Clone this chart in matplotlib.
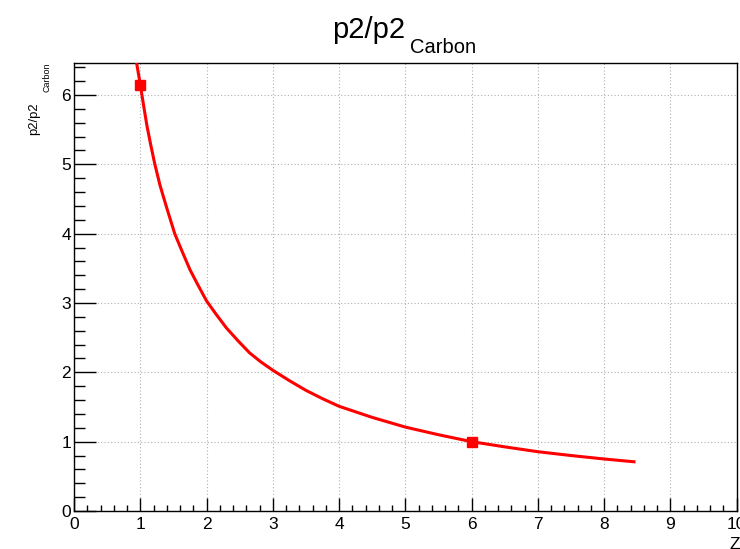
import matplotlib
matplotlib.use("Agg")
import matplotlib.pyplot as plt
from matplotlib.ticker import MultipleLocator

plt.rcParams["font.family"] = ["Liberation Sans", "DejaVu Sans"]

# curve
z_curve = [0.945, 1.0, 1.05, 1.1, 1.16, 1.22, 1.3, 1.4, 1.52, 1.62, 1.75,
           1.87, 2.0, 2.15, 2.3, 2.47, 2.65, 2.82, 3.0, 3.25, 3.5, 3.75,
           4.0, 4.5, 5.0, 5.5, 6.0, 6.5, 7.0, 7.5, 8.0, 8.45]
ratio_curve = [6.46, 6.15, 5.85, 5.56, 5.27, 5.0, 4.69, 4.37, 4.0, 3.77, 3.48,
               3.26, 3.03, 2.83, 2.64, 2.46, 2.28, 2.15, 2.03, 1.88, 1.74, 1.62,
               1.51, 1.35, 1.21, 1.10, 1.0, 0.925, 0.855, 0.80, 0.75, 0.71]

# square markers
z_points = [1, 6]
ratio_points = [6.15, 1.0]

x_ticks = [0, 1, 2, 3, 4, 5, 6, 7, 8, 9, 10]
y_ticks = [0, 1, 2, 3, 4, 5, 6]

W, H = 740, 549
fig = plt.figure(figsize=(W / 100, H / 100), dpi=100)
ax = fig.add_axes([74 / W, 1 - 511 / H, 662.7 / W, (511 - 63.3) / H])

ax.plot(z_curve, ratio_curve, color="#ff0000", lw=2.2, clip_on=True, zorder=3)
ax.plot(z_points, ratio_points, "s", color="#ff0000", ms=7, zorder=4)

ax.set_xlim(0, 10)
ax.set_ylim(0, 6.457)
ax.set_xticks(x_ticks)
ax.set_yticks(y_ticks)
ax.xaxis.set_minor_locator(MultipleLocator(0.2))
ax.yaxis.set_minor_locator(MultipleLocator(0.2))

ax.tick_params(axis="both", which="both", direction="in", top=False, right=False,
               width=1.0, labelsize=12.5, colors="black")
ax.tick_params(axis="x", which="major", length=9.1, pad=4.5)
ax.tick_params(axis="x", which="minor", length=4.5)
ax.tick_params(axis="y", which="major", length=15.6, pad=2)
ax.tick_params(axis="y", which="minor", length=7.9)

ax.grid(True, which="major", linestyle=(0, (1, 2)), color="#b0b0b0", lw=0.8)
ax.set_axisbelow(True)
for s in ax.spines.values():
    s.set_linewidth(1.0)

# title
fig.text(331.7 / W, 1 - 38.3 / H, "p2/p2", fontsize=21, ha="left", va="baseline")
fig.text(410 / W, 1 - 52.7 / H, "Carbon", fontsize=14.5, ha="left", va="baseline")

# y title
fig.text(37.3 / W, 1 - 135 / H, "p2/p2", fontsize=9.4, rotation=90,
         rotation_mode="anchor", ha="left", va="baseline")
fig.text(50 / W, 1 - 92 / H, "Carbon", fontsize=6.4, rotation=90,
         rotation_mode="anchor", ha="left", va="baseline")

# x title (cut by the right edge, as in the source)
fig.text(729.3 / W, 1 - 537 / H, "Z", fontsize=12.5, ha="left", va="top")

fig.savefig("out.png", dpi=100)
